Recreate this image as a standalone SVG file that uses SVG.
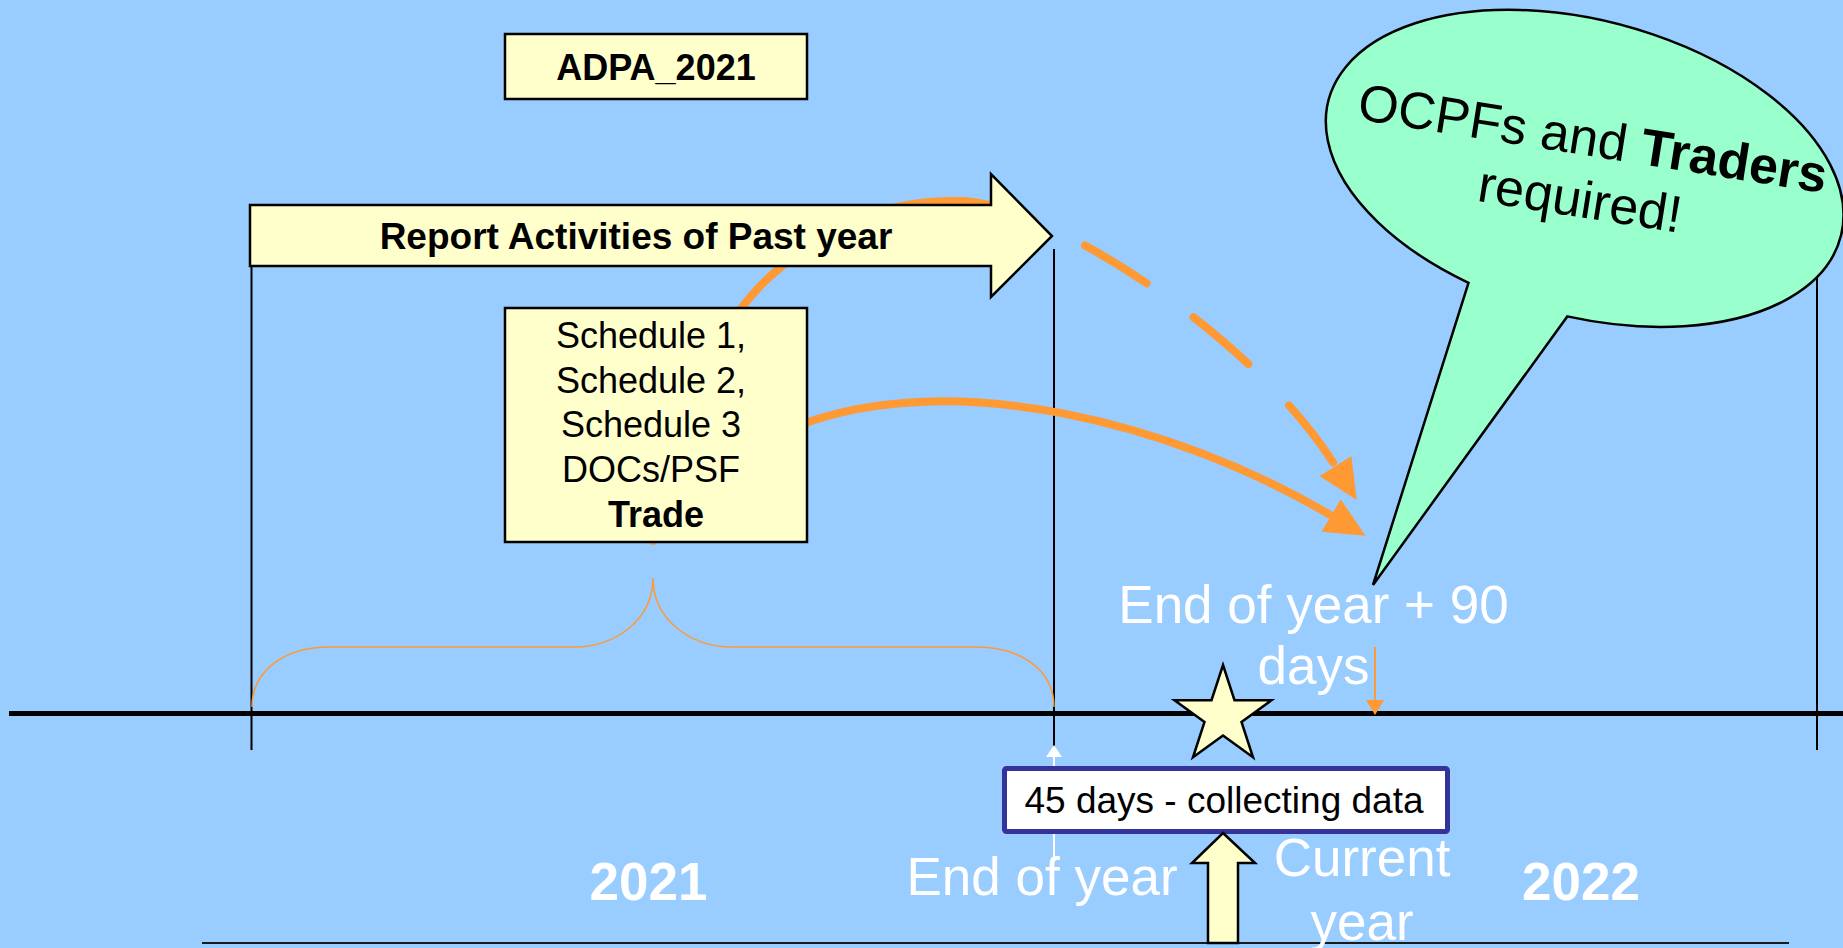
<svg xmlns="http://www.w3.org/2000/svg" width="1843" height="948" viewBox="0 0 1843 948">
<defs>
<style>
.ln{stroke:#000;stroke-width:2;fill:none}
.box{fill:#FFFFCC;stroke:#000;stroke-width:2.5}
.t{font-family:"Liberation Sans",Arial,sans-serif;fill:#000}
.b{font-weight:bold}
.w{font-family:"Liberation Sans",Arial,sans-serif;fill:#fff;font-size:53px;text-anchor:middle}
.or{stroke:#FF9933;stroke-width:8;fill:none;stroke-linecap:round}
</style>
<marker id="oh" markerUnits="userSpaceOnUse" markerWidth="40" markerHeight="40" viewBox="0 0 36 34" refX="1" refY="17" orient="auto">
<path d="M0,0 L36,17 L0,34 z" fill="#FF9933"/>
</marker>
</defs>
<rect width="1843" height="948" fill="#99CCFF"/>
<g id="axis">
<line class="ln" x1="251.5" y1="205" x2="251.5" y2="750"/>
<line class="ln" x1="1054" y1="249" x2="1054" y2="750"/>
<line class="ln" x1="1817" y1="249" x2="1817" y2="750"/>
<line x1="9" y1="713.5" x2="1843" y2="713.5" stroke="#000" stroke-width="5"/>
<line x1="202" y1="943" x2="1789" y2="943" stroke="#1a1a1a" stroke-width="2"/>
</g>
<g id="connectors">
<path d="M252,707 C252,670 285,647 330,647 L574,647 C615,647 653,620 653,578 C653,620 691,647 732,647 L976,647 C1021,647 1054,670 1054,707" fill="none" stroke="#FF9933" stroke-width="1.5"/>
<path class="or" d="M653,541 C665,430 720,315 781,267 C830,226 880,200 960,201"/>
<path class="or" d="M960,201 C1040,201 1250,330 1336,467" stroke-dasharray="72 58" stroke-dashoffset="-4" marker-end="url(#oh)"/>
<path class="or" d="M800,425 C950,368 1170,420 1332,516" marker-end="url(#oh)"/>
<line x1="1054" y1="857" x2="1054" y2="756" stroke="#fff" stroke-width="2"/>
<polygon points="1046,757 1062,757 1054,745" fill="#fff"/>
<line x1="1375" y1="647" x2="1375" y2="702" stroke="#FF9933" stroke-width="2"/>
<polygon points="1366,700 1384,700 1375,715" fill="#FF9933"/>
</g>
<g id="adpa">
<rect class="box" x="505" y="34" width="302" height="65"/>
<text class="t b" x="656" y="80" font-size="36" text-anchor="middle">ADPA_2021</text>
</g>
<g id="report-arrow">
<polygon class="box" points="250,205 991,205 991,174 1052,236 991,297 991,266 250,266"/>
<text class="t b" x="636" y="249" font-size="37" text-anchor="middle">Report Activities of Past year</text>
</g>
<g id="schedules">
<rect class="box" x="505" y="308" width="302" height="234"/>
<text class="t" font-size="36" text-anchor="middle">
<tspan x="656" y="348">Schedule 1,</tspan>
<tspan x="656" y="393">Schedule 2,</tspan>
<tspan x="656" y="437">Schedule 3</tspan>
<tspan x="656" y="482">DOCs/PSF</tspan>
<tspan x="656" y="527" font-weight="bold">Trade</tspan>
</text>
</g>
<g id="bubble">
<path d="M1468.5,282.8 L1373,585 L1567.3,316.4 A265 148 15 1 0 1468.5,282.8 Z" fill="#99FFCC" stroke="#000" stroke-width="2.5" stroke-linejoin="miter"/>
<g transform="translate(1590,156) rotate(9)">
<text class="t" font-size="52" text-anchor="middle" x="0" y="0">OCPFs and <tspan font-weight="bold">Traders</tspan></text>
<text class="t" font-size="52" text-anchor="middle" x="-3" y="62">required!</text>
</g>
</g>
<g id="star">
<polygon class="box" points="1223,665 1234.5,700.2 1271.5,700.2 1241.5,722 1253,757.3 1223,735.5 1193,757.3 1204.5,722 1174.5,700.2 1211.5,700.2"/>
</g>
<g id="collecting">
<rect x="1004.5" y="768.5" width="443" height="63" rx="2" fill="#fff" stroke="#333399" stroke-width="5"/>
<text class="t" x="1224" y="813" font-size="37" text-anchor="middle">45 days - collecting data</text>
</g>
<g id="current-arrow">
<polygon class="box" points="1223,833 1255,863 1238,863 1238,943 1208,943 1208,863 1192,863"/>
</g>
<g id="labels">
<text class="w" x="1313.5" y="623">End of year + 90</text>
<text class="w" x="1313.5" y="684">days</text>
<text class="w" x="1042" y="895">End of year</text>
<text class="w" x="1362" y="876">Current</text>
<text class="w" x="1362" y="940">year</text>
<text class="w" x="648.5" y="900" font-weight="bold" font-size="52">2021</text>
<text class="w" x="1581" y="900" font-weight="bold" font-size="52">2022</text>
</g>
</svg>
